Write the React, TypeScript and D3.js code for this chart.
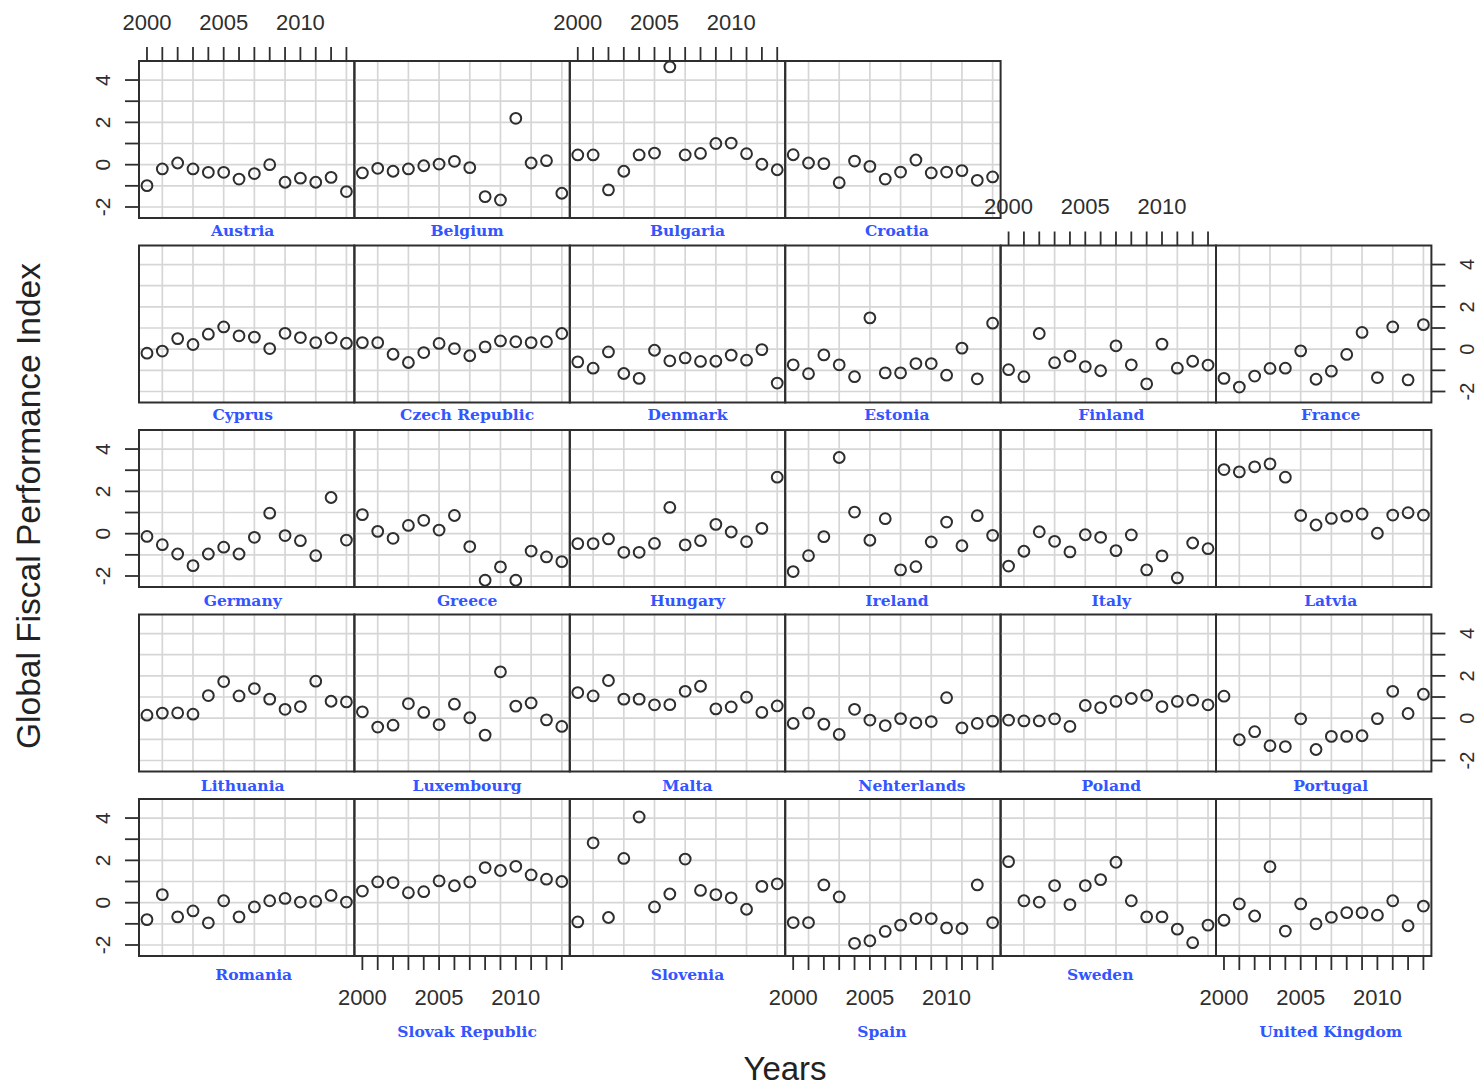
import React from "react";
import * as d3 from "d3";

// ---------- data ----------
const years = [2000, 2001, 2002, 2003, 2004, 2005, 2006, 2007, 2008, 2009, 2010, 2011, 2012, 2013];
const xTickLabels = [2000, 2005, 2010];
const yTicks = [-2, -1, 0, 1, 2, 3, 4];
const yTickLabels = [-2, 0, 2, 4];
const xGrid = [2001, 2003, 2005, 2007, 2009, 2011, 2013];
const yGrid = [-2, -1, 0, 1, 2, 3, 4];

const austria = [-0.99, -0.2, 0.08, -0.2, -0.36, -0.36, -0.68, -0.42, 0.0, -0.83, -0.64, -0.83, -0.6, -1.27];
const belgium = [-0.39, -0.17, -0.31, -0.2, -0.05, 0.03, 0.16, -0.14, -1.51, -1.67, 2.19, 0.08, 0.19, -1.35];
const bulgaria = [0.46, 0.46, -1.19, -0.31, 0.46, 0.55, 4.62, 0.46, 0.53, 1.0, 1.02, 0.52, 0.02, -0.24];
const croatia = [0.47, 0.08, 0.05, -0.85, 0.17, -0.08, -0.68, -0.35, 0.22, -0.39, -0.35, -0.28, -0.74, -0.58];
const cyprus = [-0.19, -0.09, 0.5, 0.22, 0.71, 1.05, 0.63, 0.57, 0.03, 0.75, 0.55, 0.31, 0.53, 0.28];
const czechRepublic = [0.31, 0.31, -0.24, -0.63, -0.16, 0.27, 0.03, -0.31, 0.11, 0.39, 0.35, 0.31, 0.35, 0.74];
const denmark = [-0.6, -0.9, -0.13, -1.15, -1.38, -0.05, -0.55, -0.41, -0.58, -0.57, -0.28, -0.52, -0.02, -1.6];
const estonia = [-0.74, -1.16, -0.27, -0.74, -1.3, 1.48, -1.12, -1.12, -0.68, -0.68, -1.23, 0.05, -1.4, 1.23];
const finland = [-0.97, -1.3, 0.74, -0.64, -0.33, -0.82, -1.02, 0.16, -0.74, -1.64, 0.24, -0.9, -0.57, -0.75];
const france = [-1.38, -1.79, -1.27, -0.91, -0.9, -0.08, -1.42, -1.04, -0.25, 0.79, -1.34, 1.05, -1.45, 1.16];
const germany = [-0.13, -0.52, -0.96, -1.51, -0.96, -0.64, -0.96, -0.17, 0.97, -0.09, -0.33, -1.04, 1.71, -0.3];
const greece = [0.9, 0.11, -0.22, 0.39, 0.63, 0.17, 0.86, -0.61, -2.2, -1.57, -2.2, -0.82, -1.1, -1.32];
const hungary = [-0.47, -0.47, -0.25, -0.88, -0.88, -0.46, 1.24, -0.53, -0.33, 0.44, 0.08, -0.38, 0.25, 2.67];
const ireland = [-1.79, -1.04, -0.14, 3.6, 1.02, -0.31, 0.71, -1.71, -1.56, -0.39, 0.55, -0.57, 0.85, -0.08];
const italy = [-1.53, -0.83, 0.09, -0.36, -0.86, -0.05, -0.17, -0.8, -0.06, -1.71, -1.05, -2.09, -0.44, -0.71];
const latvia = [3.03, 2.92, 3.16, 3.3, 2.67, 0.86, 0.41, 0.72, 0.83, 0.93, 0.02, 0.88, 0.99, 0.88];
const lithuania = [0.14, 0.24, 0.25, 0.19, 1.07, 1.73, 1.05, 1.4, 0.9, 0.42, 0.55, 1.75, 0.8, 0.77];
const luxembourg = [0.3, -0.42, -0.33, 0.69, 0.27, -0.3, 0.66, 0.02, -0.8, 2.19, 0.57, 0.72, -0.08, -0.39];
const malta = [1.21, 1.05, 1.78, 0.9, 0.9, 0.63, 0.64, 1.27, 1.51, 0.44, 0.53, 0.99, 0.27, 0.58];
const netherlands = [-0.25, 0.24, -0.28, -0.77, 0.42, -0.09, -0.35, -0.02, -0.22, -0.16, 0.97, -0.46, -0.25, -0.14];
const poland = [-0.09, -0.13, -0.13, -0.03, -0.39, 0.6, 0.5, 0.79, 0.93, 1.08, 0.55, 0.79, 0.85, 0.63];
const portugal = [1.04, -1.02, -0.64, -1.3, -1.34, -0.03, -1.48, -0.86, -0.86, -0.83, -0.02, 1.27, 0.22, 1.13];
const romania = [-0.8, 0.38, -0.67, -0.39, -0.95, 0.09, -0.67, -0.2, 0.09, 0.2, 0.03, 0.06, 0.34, 0.03];
const slovakRepublic = [0.55, 0.98, 0.95, 0.47, 0.52, 1.03, 0.8, 0.98, 1.66, 1.52, 1.72, 1.31, 1.11, 1.0];
const slovenia = [-0.91, 2.83, -0.7, 2.09, 4.05, -0.2, 0.41, 2.06, 0.58, 0.38, 0.23, -0.31, 0.77, 0.89];
const spain = [-0.94, -0.94, 0.84, 0.27, -1.92, -1.8, -1.36, -1.06, -0.75, -0.75, -1.19, -1.22, 0.84, -0.94];
const sweden = [1.94, 0.09, 0.03, 0.81, -0.09, 0.81, 1.09, 1.91, 0.09, -0.67, -0.67, -1.25, -1.89, -1.06];
const unitedKingdom = [-0.83, -0.06, -0.63, 1.7, -1.34, -0.06, -1.0, -0.69, -0.47, -0.47, -0.59, 0.09, -1.09, -0.16];

// panel rows (top to bottom), names as printed
const row1 = [["Austria", austria], ["Belgium", belgium], ["Bulgaria", bulgaria], ["Croatia", croatia]] as [string, number[]][];
const row2 = [["Cyprus", cyprus], ["Czech Republic", czechRepublic], ["Denmark", denmark], ["Estonia", estonia], ["Finland", finland], ["France", france]] as [string, number[]][];
const row3 = [["Germany", germany], ["Greece", greece], ["Hungary", hungary], ["Ireland", ireland], ["Italy", italy], ["Latvia", latvia]] as [string, number[]][];
const row4 = [["Lithuania", lithuania], ["Luxembourg", luxembourg], ["Malta", malta], ["Nehterlands", netherlands], ["Poland", poland], ["Portugal", portugal]] as [string, number[]][];
const row5 = [["Romania", romania], ["Slovak Republic", slovakRepublic], ["Slovenia", slovenia], ["Spain", spain], ["Sweden", sweden], ["United Kingdom", unitedKingdom]] as [string, number[]][];
const rows = [row1, row2, row3, row4, row5];

// ---------- layout ----------
const W = 1480;
const H = 1088;
const colX0 = 139;
const colW = 215.4;
const rowY0 = 61;
const rowStride = 184.5;
const panelH = 157;
const labelNudge = [
  [-4, 5, 10, 4, 3, 7],
  [-4, 5, 10, 4, 3, 7],
  [-4, 5, 10, 4, 3, 7],
  [-4, 5, 10, 19, 3, 7],
  [7, 5, 10, -11, -8, 7],
];
const stripOffset = [12, 12, 13, 14, 18];

const tickFont = "'Liberation Sans', Arial, Helvetica, sans-serif";
const stripFont = "'DejaVu Serif', Georgia, serif";
const ink = "#2e2e2e";

export default function App() {
  const panels: any[] = [];
  rows.forEach((row, r) => {
    row.forEach(([name, vals], c) => {
      const left = colX0 + c * colW;
      const top = rowY0 + r * rowStride;
      const x = d3.scaleLinear().domain([1999.48, 2013.52]).range([left, left + colW]);
      const y = d3.scaleLinear().domain([-2.52, 4.9]).range([top + panelH, top]);
      const isTopOfCol = r === 0 || (r === 1 && c >= 4);
      const topAxis = isTopOfCol && c % 2 === 0;
      const bottomAxis = r === 4 && c % 2 === 1;
      const leftAxis = c === 0 && r % 2 === 0;
      const rightAxis = c === 5 && r % 2 === 1;
      panels.push({ name, vals, r, c, left, top, x, y, topAxis, bottomAxis, leftAxis, rightAxis });
    });
  });

  return (
    <svg
      width={W}
      height={H}
      viewBox={`0 0 ${W} ${H}`}
      style={{ position: "absolute", left: 0, top: 0, background: "#fff" }}
    >
      <rect x={0} y={0} width={W} height={H} fill="#fff" />
      {panels.map((p) => {
        const { x, y, left, top } = p;
        const right = left + colW;
        const bottom = top + panelH;
        const stripY = bottom + stripOffset[p.r] + (p.bottomAxis ? 57 : 0);
        return (
          <g key={p.name}>
            {/* grid */}
            {xGrid.map((g) => (
              <line key={"vx" + g} x1={x(g)} x2={x(g)} y1={top} y2={bottom} stroke="#d6d6d6" strokeWidth={1.7} />
            ))}
            {yGrid.map((g) => (
              <line key={"hy" + g} x1={left} x2={right} y1={y(g)} y2={y(g)} stroke="#d6d6d6" strokeWidth={1.7} />
            ))}
            {/* points */}
            {p.vals.map((v: number, i: number) => (
              <circle key={i} cx={x(years[i])} cy={y(v)} r={5.4} fill="none" stroke={ink} strokeWidth={2} />
            ))}
            {/* border */}
            <rect x={left} y={top} width={colW} height={panelH} fill="none" stroke={ink} strokeWidth={2} />
            {/* strip label */}
            <text
              x={(left + right) / 2 + labelNudge[p.r][p.c]}
              y={stripY}
              textAnchor="middle"
              dominantBaseline="central"
              fontFamily={stripFont}
              fontWeight="bold"
              fontSize={15.5}
              fill="#3355ff"
            >
              {p.name}
            </text>
            {/* axes */}
            {p.topAxis && (
              <g>
                {years.map((t) => (
                  <line key={"tt" + t} x1={x(t)} x2={x(t)} y1={top - 14} y2={top} stroke={ink} strokeWidth={1.8} />
                ))}
                {xTickLabels.map((t) => (
                  <text key={"tl" + t} x={x(t)} y={top - 39} textAnchor="middle" dominantBaseline="central"
                    fontFamily={tickFont} fontSize={22} fill={ink}>{t}</text>
                ))}
              </g>
            )}
            {p.bottomAxis && (
              <g>
                {years.map((t) => (
                  <line key={"bt" + t} x1={x(t)} x2={x(t)} y1={bottom} y2={bottom + 14} stroke={ink} strokeWidth={1.8} />
                ))}
                {xTickLabels.map((t) => (
                  <text key={"bl" + t} x={x(t)} y={bottom + 41} textAnchor="middle" dominantBaseline="central"
                    fontFamily={tickFont} fontSize={22} fill={ink}>{t}</text>
                ))}
              </g>
            )}
            {p.leftAxis && (
              <g>
                {yTicks.map((t) => (
                  <line key={"lt" + t} x1={left - 14} x2={left} y1={y(t)} y2={y(t)} stroke={ink} strokeWidth={1.8} />
                ))}
                {yTickLabels.map((t) => (
                  <text key={"ll" + t} transform={`translate(${left - 37},${y(t)}) rotate(-90)`} textAnchor="middle"
                    dominantBaseline="central" fontFamily={tickFont} fontSize={21} fill={ink}>{t}</text>
                ))}
              </g>
            )}
            {p.rightAxis && (
              <g>
                {yTicks.map((t) => (
                  <line key={"rt" + t} x1={right} x2={right + 14} y1={y(t)} y2={y(t)} stroke={ink} strokeWidth={1.8} />
                ))}
                {yTickLabels.map((t) => (
                  <text key={"rl" + t} transform={`translate(${right + 36},${y(t)}) rotate(-90)`} textAnchor="middle"
                    dominantBaseline="central" fontFamily={tickFont} fontSize={20} fill={ink}>{t}</text>
                ))}
              </g>
            )}
          </g>
        );
      })}
      {/* axis titles */}
      <text transform="translate(40,506) rotate(-90)" textAnchor="middle" fontFamily={tickFont} fontSize={33.5} fill="#222">
        Global Fiscal Performance Index
      </text>
      <text x={785} y={1080} textAnchor="middle" fontFamily={tickFont} fontSize={33} fill="#222">
        Years
      </text>
    </svg>
  );
}
